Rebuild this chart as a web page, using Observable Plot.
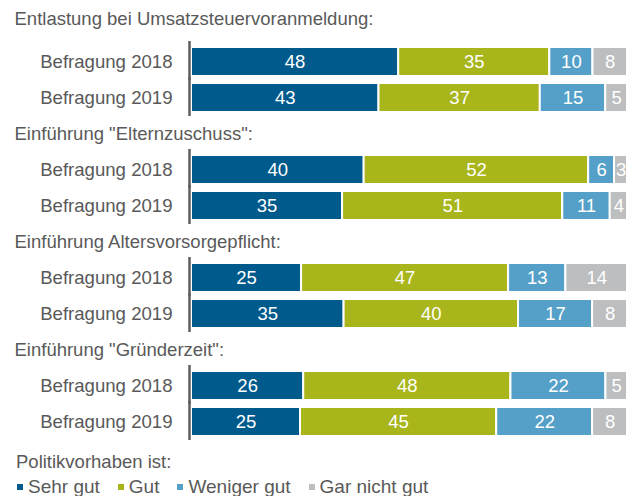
<!DOCTYPE html>
<html>
<head>
<meta charset="utf-8">
<script src="https://cdn.jsdelivr.net/npm/d3@7"></script>
<script src="https://cdn.jsdelivr.net/npm/@observablehq/plot@0.6"></script>
<style>
  html, body { margin: 0; padding: 0; background: #fff; }
  body { width: 632px; height: 496px; overflow: hidden; font-family: "Liberation Sans", Arial, sans-serif; color: #595959; }
  #chart svg { display: block; }
  #legend-title { font-size: 18.5px; line-height: 21px; margin: 6px 0 0 16px; }
  #legend { display: flex; align-items: center; font-size: 19px; line-height: 21px; margin: 4px 0 0 17px; }
  .item { display: flex; align-items: center; margin-right: 18px; }
  .sw { width: 6px; height: 6px; margin-right: 5px; }
</style>
</head>
<body>
<div id="chart"></div>
<div id="legend-title">Politikvorhaben ist:</div>
<div id="legend"></div>
<script>
const groups = [
  "Entlastung bei Umsatzsteuervoranmeldung:",
  "Einführung \"Elternzuschuss\":",
  "Einführung Altersvorsorgepflicht:",
  "Einführung \"Gründerzeit\":"
];
const surveys = ["Befragung 2018", "Befragung 2019"];
const categories = ["Sehr gut", "Gut", "Weniger gut", "Gar nicht gut"];
const colors = ["#005a8c", "#a8b51b", "#55a0c8", "#bcbec0"];
// values per row: group0-2018, group0-2019, group1-2018, ...
const sehrGut   = [48, 43, 40, 35, 25, 35, 26, 25];
const gut       = [35, 37, 52, 51, 47, 40, 48, 45];
const weniger   = [10, 15,  6, 11, 13, 17, 22, 22];
const garNicht  = [ 8,  5,  3,  4, 14,  8,  5,  8];
const series = [sehrGut, gut, weniger, garNicht];

const domain = [];
const rowLabels = [];
const headers = [];
const data = [];
groups.forEach((g, gi) => {
  if (gi > 0) { domain.push("h" + gi); headers.push({row: "h" + gi, label: g}); }
  surveys.forEach((s, si) => {
    const row = gi + "|" + s;
    domain.push(row);
    rowLabels.push({row, label: s});
    const idx = gi * 2 + si;
    categories.forEach((c, ci) => data.push({row, cat: c, value: series[ci][idx]}));
  });
});

const chart = Plot.plot({
  width: 632,
  height: 445,
  marginTop: 32,
  marginBottom: 5,
  marginLeft: 191,
  marginRight: 5,
  x: {axis: null},
  y: {domain, range: [44.4, 438.1], paddingInner: 0.2, paddingOuter: 0, axis: null},
  color: {domain: categories, range: colors},
  style: {fontFamily: "'Liberation Sans', Arial, sans-serif", fontSize: "17px", color: "#595959", background: "#fff"},
  marks: [
    Plot.barX(data, Plot.stackX({offset: "normalize", x: "value", y: "row", fill: "cat", order: categories, stroke: "white", strokeWidth: 2})),
    Plot.text(data, Plot.stackX({offset: "normalize", x: "value", y: "row", z: "cat", order: categories, text: "value", fill: "white", fontSize: 18.5})),
    Plot.text(rowLabels, {x: 0, y: "row", text: "label", textAnchor: "end", dx: -19, fill: "#595959", fontSize: 18.6}),
    Plot.text(headers, {x: 0, y: "row", text: "label", textAnchor: "start", dx: -177, fill: "#595959", fontSize: 18.5}),
    Plot.text([groups[0]], {frameAnchor: "top-left", lineAnchor: "middle", text: d => d, textAnchor: "start", dx: -177, dy: -13.5, fill: "#595959", fontSize: 18.5}),
    Plot.tickX(rowLabels, {x: () => 0, y: "row", dx: -2, stroke: "#5f5f5f", strokeWidth: 2.5, strokeOpacity: 1, insetTop: -6, insetBottom: -4})
  ]
});
document.getElementById("chart").appendChild(chart);

const legend = document.getElementById("legend");
categories.forEach((c, i) => {
  const it = document.createElement("div");
  it.className = "item";
  const sw = document.createElement("div");
  sw.className = "sw";
  sw.style.background = colors[i];
  const t = document.createElement("span");
  t.textContent = c;
  it.appendChild(sw); it.appendChild(t);
  legend.appendChild(it);
});
</script>
</body>
</html>
